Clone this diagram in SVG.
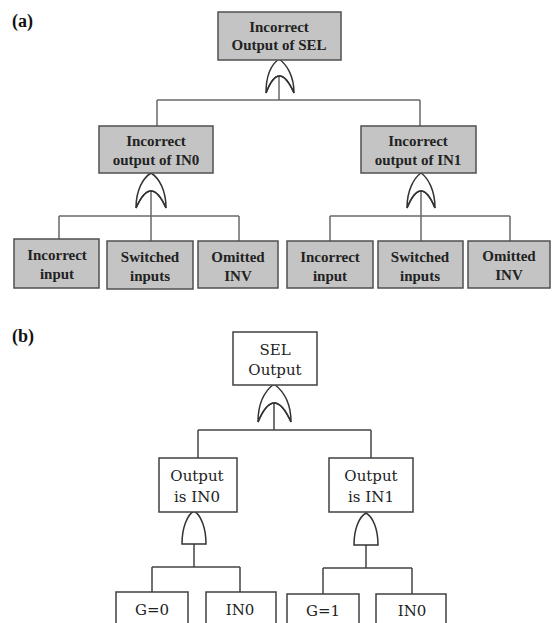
<svg xmlns="http://www.w3.org/2000/svg" width="552" height="623" viewBox="0 0 552 623">
<style>
.bg{fill:#ffffff}
.na{fill:#c4c4c4;stroke:#505050;stroke-width:1.5}
.nb{fill:#ffffff;stroke:#404040;stroke-width:1.5}
.ta{font-family:"Liberation Serif",serif;font-weight:bold;font-size:15px;fill:#222;text-anchor:middle}
.tb{font-family:"DejaVu Serif",serif;font-size:15px;fill:#222;text-anchor:middle}
.lbl{font-family:"Liberation Serif",serif;font-weight:bold;font-size:18px;fill:#111}
.ca{fill:none;stroke:#6a6a6a;stroke-width:1.5}
.cb{fill:none;stroke:#444;stroke-width:1.5}
.g{fill:#fff;stroke:#333;stroke-width:1.5}
.gi{fill:none;stroke:#333;stroke-width:1.5}
</style>
<rect class="bg" x="0" y="0" width="552" height="623"/>
<text class="lbl" x="12" y="27">(a)</text>
<text class="lbl" x="12" y="342">(b)</text>

<g id="connectors">
  <!-- (a) -->
  <path class="ca" d="M279,76 V100 M157,100 H420 M157,100 V126 M420,100 V126"/>
  <path class="ca" d="M151,191 V241 M59,216 H239 M59,216 V239 M239,216 V241"/>
  <path class="ca" d="M421,191 V241 M330,216 H510 M330,216 V241 M510,216 V241"/>
  <!-- (b) -->
  <path class="cb" d="M274,403 V430 M198,430 H371 M198,430 V458 M371,430 V458"/>
  <path class="cb" d="M194,544 V567 M152,567 H240 M152,567 V592 M240,567 V592"/>
  <path class="cb" d="M366,545 V568 M323,568 H412 M323,568 V594 M412,568 V594"/>
</g>

<g id="gate-or-sel-a">
  <path class="g" d="M266,93 C266,75 272,64 279,59 C286,64 294,75 294,93 Q279,59 266,93 Z" fill="none"/>
  <path class="gi" d="M266,93 Q279,59 294,93"/>
</g>
<g id="gate-or-in0-a">
  <path class="g" d="M136,208 C136,190 143,178 151,173 C159,178 166,190 166,208 Q151,174 136,208 Z"/>
  <path class="gi" d="M136,208 Q151,174 166,208"/>
</g>
<g id="gate-or-in1-a">
  <path class="g" d="M407,208 C407,190 414,178 421,173 C428,178 435,190 435,208 Q421,174 407,208 Z"/>
  <path class="gi" d="M407,208 Q421,174 435,208"/>
</g>
<g id="gate-or-sel-b">
  <path class="g" d="M258,422 C258,402 266,390 274,384 C282,390 291,402 291,422 Q274,384 258,422 Z"/>
  <path class="gi" d="M258,422 Q274,384 291,422"/>
</g>
<g id="gate-and-in0-b">
  <path class="g" d="M182,544 C182,528 187,515 194,511 C201,515 206,528 206,544 Z"/>
</g>
<g id="gate-and-in1-b">
  <path class="g" d="M354,545 C354,529 359,517 366,513 C373,517 378,529 378,545 Z"/>
</g>

<g id="a-top">
  <rect class="na" x="218" y="12" width="123" height="48"/>
  <text class="ta" x="279" y="32">Incorrect</text>
  <text class="ta" x="279" y="50">Output of SEL</text>
</g>
<g id="a-in0">
  <rect class="na" x="99" y="126" width="114" height="47"/>
  <text class="ta" x="156" y="146">Incorrect</text>
  <text class="ta" x="156" y="165">output of IN0</text>
</g>
<g id="a-in1">
  <rect class="na" x="361" y="126" width="115" height="47"/>
  <text class="ta" x="418" y="146">Incorrect</text>
  <text class="ta" x="418" y="165">output of IN1</text>
</g>
<g id="a-l1">
  <rect class="na" x="14" y="239" width="85" height="49"/>
  <text class="ta" x="57" y="260">Incorrect</text>
  <text class="ta" x="57" y="279">input</text>
</g>
<g id="a-l2">
  <rect class="na" x="107" y="241" width="86" height="48"/>
  <text class="ta" x="150" y="262">Switched</text>
  <text class="ta" x="150" y="281">inputs</text>
</g>
<g id="a-l3">
  <rect class="na" x="198" y="241" width="80" height="47"/>
  <text class="ta" x="238" y="262">Omitted</text>
  <text class="ta" x="238" y="281">INV</text>
</g>
<g id="a-r1">
  <rect class="na" x="287" y="241" width="86" height="47"/>
  <text class="ta" x="330" y="262">Incorrect</text>
  <text class="ta" x="330" y="281">input</text>
</g>
<g id="a-r2">
  <rect class="na" x="378" y="241" width="85" height="47"/>
  <text class="ta" x="420" y="262">Switched</text>
  <text class="ta" x="420" y="281">inputs</text>
</g>
<g id="a-r3">
  <rect class="na" x="468" y="241" width="82" height="47"/>
  <text class="ta" x="509" y="261">Omitted</text>
  <text class="ta" x="509" y="280">INV</text>
</g>

<g id="b-sel">
  <rect class="nb" x="233" y="332" width="84" height="53"/>
  <text class="tb" x="275" y="355">SEL</text>
  <text class="tb" x="275" y="375">Output</text>
</g>
<g id="b-in0">
  <rect class="nb" x="159" y="458" width="78" height="54"/>
  <text class="tb" x="197" y="481">Output</text>
  <text class="tb" x="197" y="502">is IN0</text>
</g>
<g id="b-in1">
  <rect class="nb" x="329" y="458" width="84" height="54"/>
  <text class="tb" x="371" y="481">Output</text>
  <text class="tb" x="371" y="502">is IN1</text>
</g>
<g id="b-g0">
  <rect class="nb" x="116" y="592" width="72" height="40"/>
  <text class="tb" x="152" y="615">G=0</text>
</g>
<g id="b-in0-leaf">
  <rect class="nb" x="206" y="592" width="70" height="40"/>
  <text class="tb" x="240" y="615">IN0</text>
</g>
<g id="b-g1">
  <rect class="nb" x="287" y="594" width="72" height="40"/>
  <text class="tb" x="323" y="616">G=1</text>
</g>
<g id="b-in0-leaf2">
  <rect class="nb" x="376" y="594" width="70" height="40"/>
  <text class="tb" x="412" y="616">IN0</text>
</g>
</svg>
